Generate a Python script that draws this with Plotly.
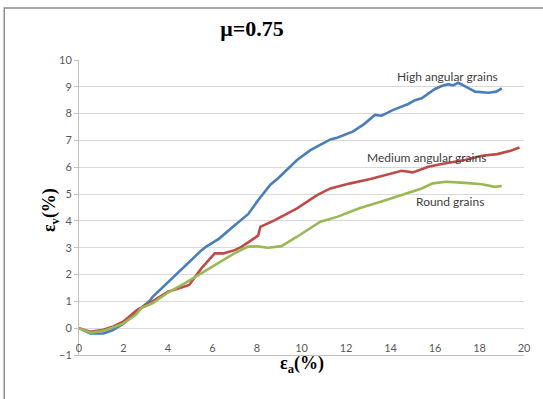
import plotly.graph_objects as go

# ---- data ----
high_x = [0, 0.5, 1.1, 1.5, 2.0, 2.6, 3.2, 3.3, 4.0, 4.8, 5.5, 5.7, 6.3, 7.0, 7.6, 8.05, 8.6, 8.95,
          9.8, 10.4, 11.3, 11.6, 12.3, 12.8, 13.3, 13.6, 14.1, 14.8, 15.1, 15.4, 15.7, 16.0, 16.3,
          16.6, 16.8, 17.05, 17.4, 17.8, 18.4, 18.75, 19.0]
high_y = [0, -0.2, -0.2, -0.08, 0.17, 0.6, 1.04, 1.16, 1.72, 2.34, 2.9, 3.03, 3.34, 3.84, 4.25, 4.77,
          5.35, 5.59, 6.27, 6.64, 7.04, 7.1, 7.33, 7.6, 7.95, 7.92, 8.13, 8.36, 8.5, 8.57, 8.76, 8.92,
          9.03, 9.1, 9.05, 9.15, 9.0, 8.82, 8.78, 8.82, 8.94]

med_x = [0, 0.5, 1.1, 1.5, 2.0, 2.6, 3.3, 4.0, 4.5, 4.95, 5.5, 6.1, 6.5, 7.0, 7.3, 7.8, 8.05, 8.15,
         8.8, 9.8, 10.7, 11.3, 12.2, 13.1, 13.95, 14.5, 15.0, 15.7, 16.3, 17.35, 18.1, 18.8, 19.4, 19.8]
med_y = [0, -0.13, -0.06, 0.05, 0.25, 0.68, 1.0, 1.36, 1.49, 1.61, 2.23, 2.79, 2.79, 2.91, 3.03, 3.3,
         3.45, 3.78, 4.03, 4.47, 4.96, 5.21, 5.4, 5.56, 5.75, 5.87, 5.81, 6.02, 6.12, 6.27, 6.43, 6.49,
         6.62, 6.74]

round_x = [0, 0.5, 1.1, 1.5, 2.0, 2.55, 2.8, 3.3, 4.0, 4.8, 5.5, 6.3, 7.0, 7.6, 8.0, 8.5, 9.1, 9.8,
           10.85, 11.6, 12.6, 13.7, 14.7, 15.4, 15.9, 16.5, 17.35, 18.1, 18.7, 19.0]
round_y = [0, -0.17, -0.1, 0.03, 0.18, 0.5, 0.75, 0.93, 1.33, 1.7, 2.05, 2.42, 2.8, 3.04, 3.05, 3.0,
           3.06, 3.41, 3.97, 4.15, 4.47, 4.75, 5.03, 5.21, 5.4, 5.46, 5.42, 5.37, 5.27, 5.3]

series_names = ["High angular grains", "Medium angular grains", "Round grains"]
label_pos = [(16.56, 9.37), (15.62, 6.38), (16.69, 4.71)]
x_ticks = list(range(0, 21, 2))
y_ticks = list(range(-1, 11))

colors = ["#4A7EBB", "#BE4B48", "#98B954"]

fig = go.Figure()
for xs, ys, name, c in zip([high_x, med_x, round_x], [high_y, med_y, round_y], series_names, colors):
    fig.add_trace(go.Scatter(x=xs, y=ys, mode="lines", name=name,
                             line=dict(color=c, width=2.6)))

for name, (lx, ly) in zip(series_names, label_pos):
    fig.add_annotation(x=lx, y=ly, text=name, showarrow=False,
                       font=dict(family="Lato", size=12, color="#404040"))

fig.add_annotation(xref="paper", yref="paper", x=0.5, y=-0.078, text="<b>ε<sub>a</sub>(%)</b>",
                   showarrow=False, font=dict(family="Liberation Serif", size=18, color="#000000"))
fig.add_annotation(xref="paper", yref="paper", x=-0.094, y=0.49, text="<b>ε<sub>v</sub>(%)</b>",
                   textangle=-90, showarrow=False,
                   font=dict(family="Liberation Serif", size=18, color="#000000"))

fig.add_shape(type="rect", xref="paper", yref="paper", x0=-0.168, x1=1.2, y0=-0.3, y1=1.176,
              line=dict(color="#8C8C8C", width=1.5), layer="below")

fig.update_layout(
    width=543, height=399,
    margin=dict(l=79, r=15, t=60, b=44),
    paper_bgcolor="white", plot_bgcolor="white",
    showlegend=False,
    title=dict(text="<b>μ=0.75</b>", x=0.464, y=0.93, xanchor="center", yanchor="middle",
               font=dict(family="Liberation Serif", size=22, color="#000000")),
    xaxis=dict(range=[0, 20], tickvals=x_ticks, showgrid=False, zeroline=False,
               showline=True, linecolor="#BFBFBF", linewidth=1,
               ticklabelposition="inside", ticklabeloverflow="allow", ticks="",
               tickfont=dict(family="Lato", size=11, color="#595959")),
    yaxis=dict(range=[-1, 10], tickvals=y_ticks, showgrid=True, gridcolor="#D9D9D9", gridwidth=1,
               zeroline=False, showline=True, linecolor="#BFBFBF", linewidth=1,
               ticks="outside", ticklen=4, tickcolor="#BFBFBF",
               tickfont=dict(family="Lato", size=11, color="#595959")),
)

fig.write_html("out.html")
